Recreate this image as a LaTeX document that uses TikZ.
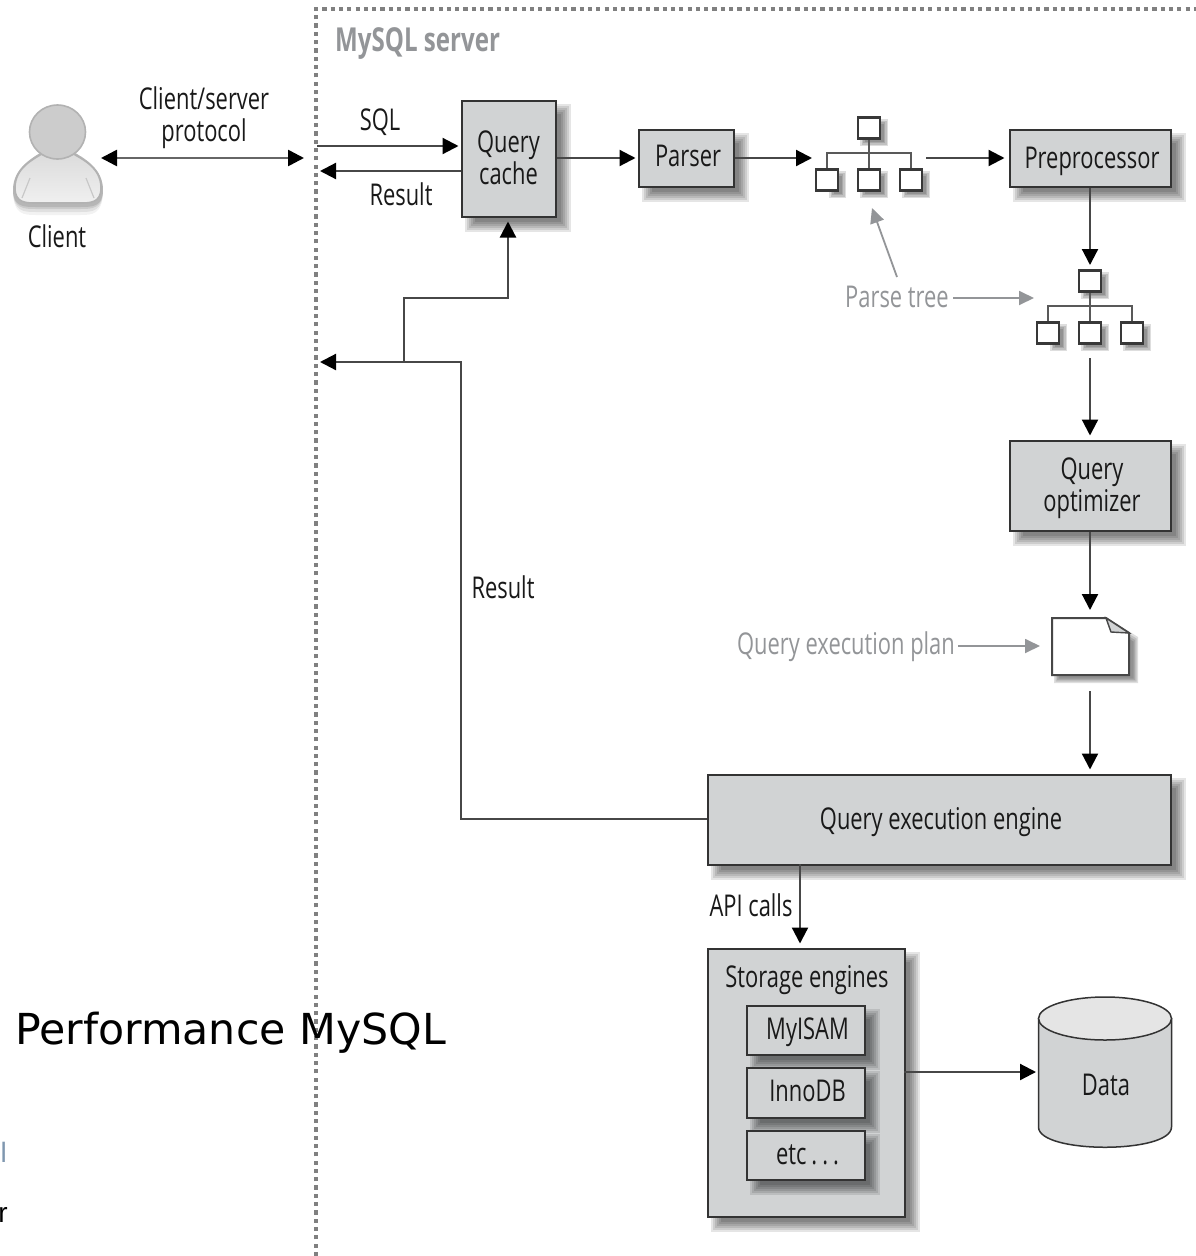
\documentclass[tikz,border=0pt]{standalone}
\usepackage{fontspec}
\setmainfont[FakeStretch=0.73]{Open Sans}
\newfontfamily\djfont{DejaVu Sans}
\newfontfamily\libfont{Liberation Sans}
\usetikzlibrary{arrows.meta,calc}
\definecolor{boxg}{HTML}{D1D3D4}
\definecolor{lab}{HTML}{939598}
\definecolor{fragblue}{HTML}{7F97AF}
\tikzset{
  x=1pt,y=-1pt,
  box/.style={draw=black!80,line width=2pt,fill=boxg,inner sep=0pt,font=\fontsize{30}{32}\selectfont,align=center,text=black!90},
  tbox/.style={draw=black!78,line width=2.2pt,fill=white,minimum width=22pt,minimum height=21pt,inner sep=0pt},
  tlab/.style={font=\fontsize{30}{32}\selectfont,align=center,text=black!90,inner sep=0pt},
  glab/.style={font=\fontsize{30}{32}\selectfont,text=lab,inner sep=0pt},
  arr/.style={-{Triangle[length=16pt,width=16pt,black]},draw=black!72,line width=2.2pt},
  arrs/.style={arr,shorten >=4pt},
  darr/.style={{Triangle[length=16pt,width=16pt,black]}-{Triangle[length=16pt,width=16pt,black]},draw=black!60,line width=2.6pt},
  garr/.style={-{Triangle[length=15pt,width=14pt]},draw=lab,line width=1.8pt},
  pl/.style={draw=black!65,line width=2pt},
}
\newcommand{\softrect}[4]{%
  \foreach \k in {6,4,2,0,-2,-4}{
    \fill[black,opacity=0.1] (#1-\k,#2-\k) rectangle (#3+\k,#4+\k);}
}
\newcommand{\softsmall}[4]{%
  \foreach \k in {3,1.5,0,-1.5}{
    \fill[black,opacity=0.13] (#1-\k,#2-\k) rectangle (#3+\k,#4+\k);}
}
\newcommand{\boxn}[6]{%
  \softrect{#2+10}{#3+10}{#4+10}{#5+10}
  \node[box,anchor=north west,minimum width=#4-#2,minimum height=#5-#3] (#1) at (#2-0.5,#3-0.5) {#6};
}
\newcommand{\sh}{\hspace*{4pt}}
\newcommand{\dn}[2]{\raisebox{-#1pt}[22pt][7pt]{#2}}
\begin{document}
\begin{tikzpicture}
\useasboundingbox (0,0) rectangle (1196,1256);
\fill[white] (0,0) rectangle (1196,1256);

% server border
\coordinate (bl) at (316,1256);
\coordinate (tl) at (316,9);
\coordinate (tr) at (1196,9);
\draw[draw=black!50,line width=3.4pt,dash pattern=on 4.2pt off 4.1pt] (bl) -- (tl) -- (tr);
\node[font=\fontsize{33}{36}\selectfont\bfseries,text=lab,anchor=west,inner sep=0pt] (srv) at (335,43) {MySQL server};

% client icon
\foreach \d/\o in {10/.05,7/.07,4/.09,2/.1}{
  \fill[black,opacity=\o] (13,190) .. controls (13,168) and (32,158) .. (45,150) -- (70,150) .. controls (84,158) and (103,168) .. (103,190) .. controls (103,205+\d) and (92,205+\d) .. (80,205+\d) -- (36,205+\d) .. controls (24,205+\d) and (13,205+\d) .. (13,190) -- cycle;}
\draw[draw=black!30,line width=1.6pt,top color=black!14,bottom color=black!6] (15,188) .. controls (15,168) and (32,160) .. (45,152) -- (70,152) .. controls (84,160) and (101,168) .. (101,188) .. controls (101,203) and (90,203) .. (80,203) -- (36,203) .. controls (26,203) and (15,203) .. (15,188) -- cycle;
\draw[draw=black!22,line width=1.2pt] (22,198) -- (30,178) (94,198) -- (86,178);
\draw[draw=black!30,line width=1.6pt,fill=black!20] (57.5,132) ellipse[x radius=28,y radius=27];
\coordinate (cli) at (101,158);
\node[tlab] (clientlab) at (57,236) {Client};
\node[tlab] (proto) at (204,118) {Client/server\\protocol};

% boxes
\boxn{qc}{461}{100}{555}{216}{\dn{2}{Query}\\\dn{2}{cache}}
\boxn{parser}{638}{129}{733}{186}{\sh\dn{1}{Parser}}
\boxn{pre}{1009}{129}{1170}{186}{\sh\dn{2.5}{Preprocessor}}
\boxn{opt}{1009}{440}{1170}{530}{\sh\dn{2.5}{Query}\\\sh\dn{2.5}{optimizer}}
\boxn{qee}{707}{774}{1170}{864}{\sh\dn{2.5}{Query execution engine}}
\boxn{se}{707}{948}{904}{1216}{}
\node[tlab] (selab) at (807,980) {Storage engines};
\boxn{myi}{746}{1005}{864}{1054}{\sh\dn{2}{MyISAM}}
\boxn{inno}{746}{1067}{864}{1117}{\sh\dn{1}{InnoDB}}
\boxn{etc}{746}{1130}{864}{1179}{\sh\dn{1.5}{etc\,.\,.\,.}}

% trees
\newcommand{\treeshape}[3]{%
  \softsmall{#1-42+5}{#3-11+5}{#1-42+16}{#3+10+5}
  \softsmall{#1-11+5}{#3-11+5}{#1+16}{#3+10+5}
  \softsmall{#1+42-11+5}{#3-11+5}{#1+42+16}{#3+10+5}
  \softsmall{#1-11+5}{#2-11+5}{#1+16}{#2+10+5}
  \draw[pl] (#1,#2) -- (#1,#3);
  \draw[pl] (#1-42,#3) -- (#1-42,#2+25) -- (#1+42,#2+25) -- (#1+42,#3);
}
\treeshape{869}{128}{180}
\foreach \n/\x/\y in {ta/869/128,tb/827/180,tc/869/180,td/911/180}{\node[tbox] (\n) at (\x,\y) {};}
\treeshape{1090}{281}{333}
\foreach \n/\x/\y in {ua/1090/281,ub/1048/333,uc/1090/333,ud/1132/333}{\node[tbox] (\n) at (\x,\y) {};}

% document
\foreach \k in {3,1.5,0,-1.5}{
  \fill[black,opacity=.13] (1057-\k,625-\k) -- (1111+\k,625-\k) -- (1135+\k,640-\k) -- (1135+\k,680+\k) -- (1057-\k,680+\k) -- cycle;}
\draw[draw=black!72,line width=2pt,fill=white] (1052,618) -- (1106,618) -- (1129,633) -- (1129,675) -- (1052,675) -- cycle;
\draw[draw=black!72,line width=1.4pt,fill=boxg] (1106,618) -- (1129,633) -- (1111,632) -- cycle;
\coordinate (docs) at (1090,691);

% cylinder
\draw[draw=black!80,line width=1.5pt,fill=boxg] (1038.5,1018.5) -- (1038.5,1127) .. controls (1038.5,1154) and (1171.5,1154) .. (1171.5,1127) -- (1171.5,1018.5) -- cycle;
\draw[draw=black!80,line width=1.5pt,fill=black!10] (1105,1018.5) ellipse[x radius=66.5,y radius=21.5];
\node[tlab] (data) at (1106,1085) {Data};
\coordinate (datal) at (1036,1072);

% connectors
\coordinate (srvA) at (304,158);
\draw[darr] (cli) -- (srvA);
\coordinate (sqlS) at (317,146);
\draw[arr,shorten >=2pt] (sqlS) -- (qc.west |- sqlS);
\node[tlab] (sql) at (380,122) {SQL};
\coordinate (resE) at (320,171);
\draw[arr] (qc.west |- resE) -- (resE);
\node[tlab] (res) at (401,194) {Result};
\draw[arr,shorten >=2pt] (qc.east |- parser.west) -- (parser.west);
\coordinate (t1E) at (812,158);
\draw[arr] (parser.east) -- (t1E);
\coordinate (t1S) at (926,158);
\draw[arrs] (t1S) -- (pre.west);
\coordinate (uTop) at (1090,265);
\draw[arr] (pre.south -| uTop) -- (uTop);
\coordinate (uBot) at (1090,358);
\draw[arrs] (uBot) -- (opt.north -| uBot);
\coordinate (docT) at (1090,610);
\draw[arr] (opt.south -| docT) -- (docT);
\draw[arrs] (docs) -- (qee.north -| docs);
\coordinate (r1) at (461,819);
\coordinate (r2) at (461,362);
\coordinate (r3) at (320,362);
\draw[arr] (qee.west |- r1) -- (r1) -- (r2) -- (r3);
\coordinate (b1) at (404,362);
\coordinate (b2) at (404,298);
\coordinate (b3) at (508,298);
\draw[arrs] (b1) -- (b2) -- (b3) -- (qc.south -| b3);
\node[tlab] (res2) at (503,587) {Result};
\coordinate (ap) at (800,864);
\draw[arrs] (ap) -- (se.north -| ap);
\node[tlab] (api) at (751,905) {API calls};
\coordinate (seE) at (904,1072);
\draw[arr] (seE) -- (datal);

% grey labels
\node[glab] (pt) at (897,297) {Parse tree};
\coordinate (ptu) at (872,208);
\coordinate (pts) at (897,277);
\draw[garr] (pts) -- (ptu);
\coordinate (ptrs) at (953,298);
\coordinate (ptr) at (1034,298);
\draw[garr] (ptrs) -- (ptr);
\node[glab] (qep) at (846,647) {Query execution plan};
\coordinate (qeps) at (958,646);
\coordinate (qepr) at (1040,646);
\draw[garr] (qeps) -- (qepr);

% overlay text
\node[font=\djfont\fontsize{42.7}{48}\selectfont,text=black,anchor=base west,inner sep=0pt] (perf) at (15,1044) {Performance MySQL};
\node[font=\libfont\fontsize{28}{32}\selectfont,text=black,anchor=base east,inner sep=0pt] (frag) at (8,1222) {r};
\node[font=\libfont\fontsize{28}{32}\selectfont,text=fragblue,anchor=base west,inner sep=0pt] (frag2) at (0.5,1162) {l};
\end{tikzpicture}
\end{document}
